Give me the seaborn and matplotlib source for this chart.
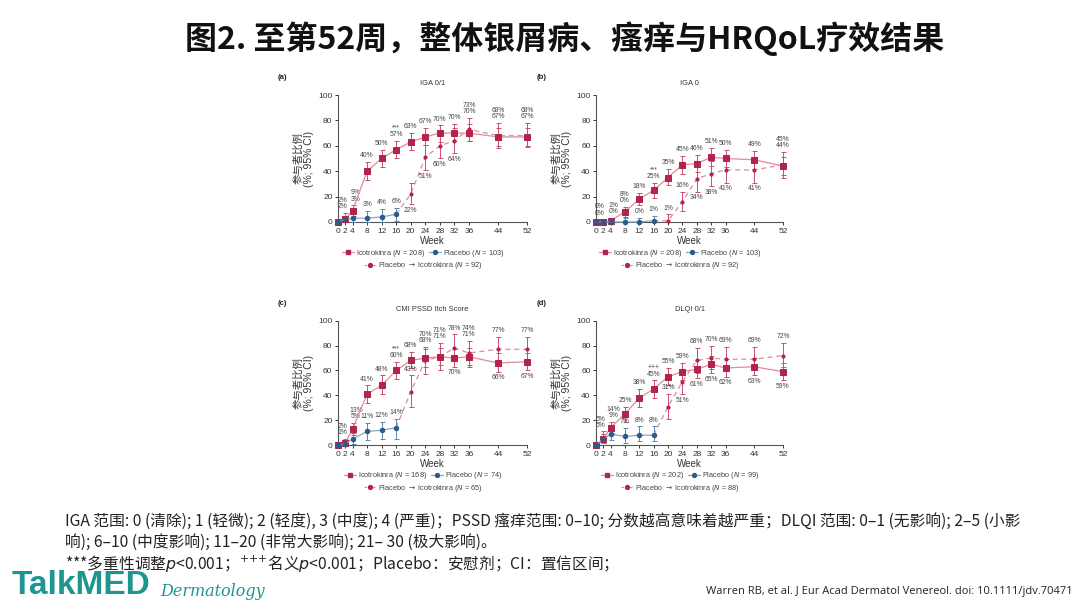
import matplotlib
matplotlib.use("Agg")
import matplotlib.pyplot as plt
from matplotlib.lines import Line2D
import seaborn as sns

WEEKS = [0, 2, 4, 8, 12, 16, 20, 24, 28, 32, 36, 44, 52]
WEEKS_PBO = [0, 2, 4, 8, 12, 16]
WEEKS_CROSS = [20, 24, 28, 32, 36, 44, 52]

# (a) IGA 0/1
A_ICO = [0, 2, 9, 40, 50, 57, 63, 67, 70, 70, 70, 67, 67]
A_ICO_LO = [0, 0, 5, 33, 43, 50, 57, 61, 63, 64, 64, 60, 60]
A_ICO_HI = [0, 5, 13, 47, 57, 64, 70, 74, 76, 77, 77, 74, 74]
A_PBO = [0, 2, 3, 3, 4, 6]
A_PBO_LO = [0, 0, 0, 0, 0, 1]
A_PBO_HI = [0, 7, 8, 9, 10, 11]
A_CROSS = [22, 51, 60, 64, 73, 68, 68]
A_CROSS_LO = [14, 41, 50, 54, 64, 58, 59]
A_CROSS_HI = [31, 61, 70, 74, 82, 78, 78]
A_N = [208, 103, 92]
A_LABELS = [(2, "AP", "up"), (4, "AP", "up"), (8, "A", "up"), (8, "P", "up"),
            (12, "A", "up"), (12, "P", "up"), (16, "*A", "up"), (16, "P", "up"),
            (20, "A", "up"), (20, "D", "down"), (24, "A", "up"), (24, "D", "down"),
            (28, "A", "up"), (28, "D", "down"), (32, "A", "up"), (32, "D", "down"),
            (36, "DA", "up"), (44, "DA", "up"), (52, "DA", "up")]

# (b) IGA 0
B_ICO = [0, 0, 1, 8, 18, 25, 35, 45, 46, 51, 50, 49, 44]
B_ICO_LO = [0, 0, 0, 4, 13, 19, 29, 38, 39, 44, 43, 42, 37]
B_ICO_HI = [0, 2, 3, 12, 23, 31, 42, 52, 53, 58, 57, 56, 51]
B_PBO = [0, 0, 0, 0, 0, 1]
B_PBO_LO = [0, 0, 0, 0, 0, 0]
B_PBO_HI = [0, 2, 2, 3, 3, 5]
B_CROSS = [1, 16, 34, 38, 41, 41, 45]
B_CROSS_LO = [0, 9, 24, 28, 31, 31, 35]
B_CROSS_HI = [6, 24, 44, 48, 51, 51, 55]
B_N = [208, 103, 92]
B_LABELS = [(2, "AP", "up"), (4, "AP", "up"), (8, "AP", "up"),
            (12, "A", "up"), (12, "P", "up"), (16, "*A", "up"), (16, "P", "up"),
            (20, "A", "up"), (20, "D", "up"), (24, "A", "up"), (24, "D", "up"),
            (28, "A", "up"), (28, "D", "down"), (32, "A", "up"), (32, "D", "down"),
            (36, "A", "up"), (36, "D", "down"), (44, "A", "up"), (44, "D", "down"),
            (52, "DA", "up")]

# (c) CMI PSSD Itch Score
C_ICO = [0, 2, 13, 41, 48, 60, 68, 70, 71, 70, 71, 66, 67]
C_ICO_LO = [0, 0, 8, 34, 41, 53, 62, 63, 64, 63, 64, 59, 60]
C_ICO_HI = [0, 5, 18, 48, 56, 67, 75, 77, 78, 77, 78, 74, 74]
C_PBO = [0, 1, 5, 11, 12, 14]
C_PBO_LO = [0, 0, 1, 4, 5, 5]
C_PBO_HI = [0, 4, 10, 18, 19, 21]
C_CROSS = [43, 68, 71, 78, 74, 77, 77]
C_CROSS_LO = [31, 57, 60, 68, 63, 67, 67]
C_CROSS_HI = [56, 79, 82, 89, 84, 87, 87]
C_N = [168, 74, 65]
C_LABELS = [(2, "AP", "up"), (4, "AP", "up"), (8, "A", "up"), (8, "P", "up"),
            (12, "A", "up"), (12, "P", "up"), (16, "*A", "up"), (16, "P", "up"),
            (20, "A", "up"), (20, "D", "up"), (24, "AD", "up"), (28, "AD", "up"),
            (32, "D", "up"), (32, "A", "down"), (36, "DA", "up"),
            (44, "D", "up"), (44, "A", "down"), (52, "D", "up"), (52, "A", "down")]

# (d) DLQI 0/1
D_ICO = [0, 5, 14, 25, 38, 45, 55, 59, 61, 65, 62, 63, 59]
D_ICO_LO = [0, 2, 10, 19, 31, 38, 48, 52, 54, 58, 55, 56, 52]
D_ICO_HI = [0, 9, 19, 31, 45, 52, 62, 66, 68, 72, 69, 70, 66]
D_PBO = [0, 5, 9, 7, 8, 8]
D_PBO_LO = [0, 2, 4, 2, 3, 3]
D_PBO_HI = [0, 11, 16, 14, 15, 15]
D_CROSS = [31, 51, 68, 70, 69, 69, 72]
D_CROSS_LO = [21, 41, 58, 61, 60, 60, 63]
D_CROSS_HI = [41, 61, 78, 80, 79, 79, 82]
D_N = [202, 99, 88]
D_LABELS = [(2, "AP", "up"), (4, "AP", "up"), (8, "A", "up"), (8, "P", "up"),
            (12, "A", "up"), (12, "P", "up"), (16, "+A", "up"), (16, "P", "up"),
            (20, "A", "up"), (20, "D", "up"), (24, "A", "up"), (24, "D", "down"),
            (28, "D", "up"), (28, "A", "down"), (32, "D", "up"), (32, "A", "down"),
            (36, "D", "up"), (36, "A", "down"), (44, "D", "up"), (44, "A", "down"),
            (52, "D", "up"), (52, "A", "down")]

MARKS = {"*": "***", "+": "+++"}
# early weeks sit close together, so their labels are pushed apart a little
X_NUDGE = {2: -0.9, 4: 0.9}

ICO_DARK = "#b3244c"
ICO_BAR = "#c9506d"
ICO_LINE = "#e08a9e"
PBO_DARK = "#2c5b8b"
PBO_BAR = "#5d86b0"
PBO_LINE = "#86a8c8"
TXT = "#444444"
TEAL = "#1f9590"

sns.set_theme(style="ticks")
plt.rcParams["font.family"] = ["Liberation Sans", "Noto Sans CJK SC", "DejaVu Sans"]
plt.rcParams["axes.unicode_minus"] = False


def draw_panel(ax, letter, title, ico, ico_lo, ico_hi, pbo, pbo_lo, pbo_hi,
               cross, cross_lo, cross_hi, ns, labels):
    # solid icotrokinra
    sns.lineplot(x=WEEKS, y=ico, ax=ax, color=ICO_LINE, linewidth=0.9,
                 marker="s", markersize=4, markerfacecolor=ICO_DARK,
                 markeredgecolor=ICO_DARK, errorbar=None, clip_on=False, zorder=4)
    ax.errorbar(WEEKS, ico, yerr=[[v - l for v, l in zip(ico, ico_lo)],
                                  [h - v for v, h in zip(ico, ico_hi)]],
                fmt="none", ecolor=ICO_BAR, elinewidth=0.7, capsize=1.8,
                capthick=0.7, clip_on=False, zorder=3)
    # placebo
    sns.lineplot(x=WEEKS_PBO, y=pbo, ax=ax, color=PBO_LINE, linewidth=0.9,
                 marker="o", markersize=3.2, markerfacecolor=PBO_DARK,
                 markeredgecolor=PBO_DARK, errorbar=None, clip_on=False, zorder=4)
    ax.errorbar(WEEKS_PBO, pbo, yerr=[[v - l for v, l in zip(pbo, pbo_lo)],
                                      [h - v for v, h in zip(pbo, pbo_hi)]],
                fmt="none", ecolor=PBO_BAR, elinewidth=0.7, capsize=1.8,
                capthick=0.7, clip_on=False, zorder=3)
    # placebo -> icotrokinra
    sns.lineplot(x=[WEEKS_PBO[-1]] + WEEKS_CROSS, y=[pbo[-1]] + cross, ax=ax,
                 color=ICO_LINE, linewidth=0.9, linestyle=(0, (4, 3)),
                 errorbar=None, clip_on=False, zorder=3)
    sns.scatterplot(x=WEEKS_CROSS, y=cross, ax=ax, color=ICO_DARK, s=9,
                    edgecolor=ICO_DARK, linewidth=0, zorder=5, clip_on=False)
    ax.errorbar(WEEKS_CROSS, cross, yerr=[[v - l for v, l in zip(cross, cross_lo)],
                                          [h - v for v, h in zip(cross, cross_hi)]],
                fmt="none", ecolor=ICO_BAR, elinewidth=0.7, capsize=1.8,
                capthick=0.7, clip_on=False, zorder=3)

    series = {"A": (WEEKS, ico, ico_lo, ico_hi),
              "P": (WEEKS_PBO, pbo, pbo_lo, pbo_hi),
              "D": (WEEKS_CROSS, cross, cross_lo, cross_hi)}
    for week, keys, side in labels:
        texts, tops, bots = [], [], []
        for k in keys:
            if k in MARKS:
                texts.append(MARKS[k])
                continue
            wk, v, lo, hi = series[k]
            i = wk.index(week)
            texts.append(f"{v[i]}%")
            tops.append(hi[i])
            bots.append(lo[i])
        x = week + X_NUDGE.get(week, 0)
        if side == "up":
            base = max(tops) + 5
            for j, t in enumerate(reversed(texts)):
                ax.text(x, base + 5 * j, t, ha="center", va="center",
                        fontsize=4.9, color=TXT)
        else:
            base = min(bots) - 5
            for j, t in enumerate(texts):
                ax.text(x, base - 5 * j, t, ha="center", va="center",
                        fontsize=4.9, color=TXT)

    ax.set_xlim(0, 52)
    ax.set_ylim(0, 100)
    ax.set_xticks(WEEKS)
    ax.set_yticks([0, 20, 40, 60, 80, 100])
    ax.tick_params(labelsize=6, length=2.5, width=0.7, pad=1.5, colors="#333333")
    for s in ["left", "bottom"]:
        ax.spines[s].set_linewidth(0.8)
        ax.spines[s].set_color("#555555")
    sns.despine(ax=ax)
    ax.set_xlabel("Week", fontsize=7, labelpad=1, color="#333333")
    ax.set_ylabel("参与者比例\n(%; 95% CI)", fontsize=7.5, labelpad=3,
                  linespacing=1.1, color="#333333")
    ax.set_title(title, fontsize=5.4, pad=7, color="#333333")
    ax.text(-0.32, 1.14, f"({letter})", transform=ax.transAxes, fontsize=5.6,
            fontweight="bold", color="#222222", ha="left", va="center")

    h_ico = Line2D([], [], color=ICO_LINE, marker="s", markersize=3.2,
                   markerfacecolor=ICO_DARK, markeredgecolor=ICO_DARK, linewidth=0.9)
    h_pbo = Line2D([], [], color=PBO_LINE, marker="o", markersize=2.8,
                   markerfacecolor=PBO_DARK, markeredgecolor=PBO_DARK, linewidth=0.9)
    h_cross = Line2D([], [], color=ICO_LINE, marker="o", markersize=2.8,
                     markerfacecolor=ICO_DARK, markeredgecolor=ICO_DARK,
                     linewidth=0.9, linestyle=(0, (2, 1.5)))
    leg1 = ax.legend([h_ico, h_pbo],
                     [rf"Icotrokinra ($\it{{N}}$ = {ns[0]})",
                      rf"Placebo ($\it{{N}}$ = {ns[1]})"],
                     loc="center", bbox_to_anchor=(0.45, -0.245), ncol=2,
                     frameon=False, fontsize=5.3, handlelength=1.6,
                     handletextpad=0.3, columnspacing=0.5, borderpad=0)
    for t in leg1.get_texts():
        t.set_color(TXT)
    ax.add_artist(leg1)
    leg2 = ax.legend([h_cross],
                     [rf"Placebo $\rightarrow$ Icotrokinra ($\it{{N}}$ = {ns[2]})"],
                     loc="center", bbox_to_anchor=(0.45, -0.345), frameon=False,
                     fontsize=5.3, handlelength=1.6, handletextpad=0.3, borderpad=0)
    for t in leg2.get_texts():
        t.set_color(TXT)


fig = plt.figure(figsize=(10.8, 6.09), dpi=100)
fig.patch.set_facecolor("white")

ax_a = fig.add_axes([0.313, 0.6355, 0.175, 0.2085])
ax_b = fig.add_axes([0.552, 0.6355, 0.173, 0.2085])
ax_c = fig.add_axes([0.313, 0.269, 0.175, 0.2045])
ax_d = fig.add_axes([0.552, 0.269, 0.173, 0.2045])

draw_panel(ax_a, "a", "IGA 0/1", A_ICO, A_ICO_LO, A_ICO_HI, A_PBO, A_PBO_LO, A_PBO_HI,
           A_CROSS, A_CROSS_LO, A_CROSS_HI, A_N, A_LABELS)
draw_panel(ax_b, "b", "IGA 0", B_ICO, B_ICO_LO, B_ICO_HI, B_PBO, B_PBO_LO, B_PBO_HI,
           B_CROSS, B_CROSS_LO, B_CROSS_HI, B_N, B_LABELS)
draw_panel(ax_c, "c", "CMI PSSD Itch Score", C_ICO, C_ICO_LO, C_ICO_HI, C_PBO, C_PBO_LO,
           C_PBO_HI, C_CROSS, C_CROSS_LO, C_CROSS_HI, C_N, C_LABELS)
draw_panel(ax_d, "d", "DLQI 0/1", D_ICO, D_ICO_LO, D_ICO_HI, D_PBO, D_PBO_LO, D_PBO_HI,
           D_CROSS, D_CROSS_LO, D_CROSS_HI, D_N, D_LABELS)

cjk = ["Noto Sans CJK SC"]
fig.text(0.523, 0.937, "图2. 至第52周，整体银屑病、瘙痒与HRQoL疗效结果",
         ha="center", va="center", fontsize=23, fontweight="bold",
         family=cjk, color="#111111")

foot = ["IGA 范围: 0 (清除); 1 (轻微); 2 (轻度), 3 (中度); 4 (严重)；PSSD 瘙痒范围: 0–10; "
        "分数越高意味着越严重；DLQI 范围: 0–1 (无影响); 2–5 (小影",
        "响); 6–10 (中度影响); 11–20 (非常大影响); 21– 30 (极大影响)。",
        r"***多重性调整$\it{p}$<0.001；$^{{+}{+}{+}}$名义$\it{p}$<0.001；Placebo：安慰剂；CI：置信区间；"]
for i, line in enumerate(foot):
    fig.text(0.060, 0.1445 - 0.0345 * i, line, ha="left", va="center",
             fontsize=11.3, family=cjk, color="#222222")

fig.text(0.011, 0.039, "TalkMED", ha="left", va="center", fontsize=24,
         fontweight="bold", family=["Liberation Sans"], color=TEAL)
fig.text(0.148, 0.029, "Dermatology", ha="left", va="center", fontsize=11.5,
         style="italic", family=["DejaVu Serif"], color=TEAL)
fig.text(0.993, 0.028, "Warren RB, et al. J Eur Acad Dermatol Venereol. doi: 10.1111/jdv.70471",
         ha="right", va="center", fontsize=8, family=["Open Sans"], color="#222222")

fig.savefig("out.png", dpi=100, facecolor="white")
